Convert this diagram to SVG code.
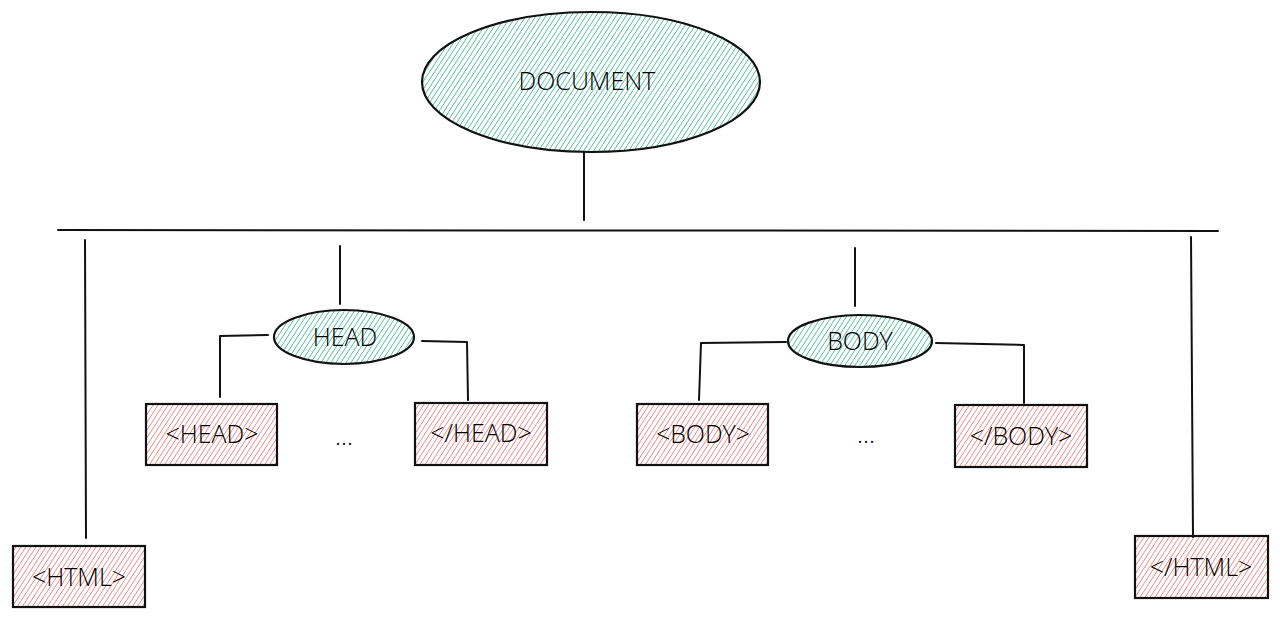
<svg xmlns="http://www.w3.org/2000/svg" width="1280" height="621" viewBox="0 0 1280 621">
<defs>
<pattern id="hg" width="4.2" height="5" patternUnits="userSpaceOnUse" patternTransform="rotate(33)">
<line x1="0" y1="0" x2="0" y2="5" stroke="#0ca678" stroke-width="1.4" stroke-opacity="0.85"/>
</pattern>
<pattern id="hr" width="4.2" height="5" patternUnits="userSpaceOnUse" patternTransform="rotate(33)">
<line x1="0" y1="0" x2="0" y2="5" stroke="#e03131" stroke-width="1.3" stroke-opacity="0.75"/>
</pattern>
<style>
.e{fill:url(#hg);stroke:#111111;stroke-width:2.2}
.r{fill:url(#hr);stroke:#111111;stroke-width:2.2}
.c{fill:none;stroke:#111111;stroke-width:2;stroke-linecap:round;stroke-linejoin:round}
text{font-family:"Open Sans","Noto Sans",sans-serif;font-weight:300;fill:#000000;text-anchor:middle;dominant-baseline:central}
.t{font-size:25px}
.s{font-size:25px}
</style>
</defs>
<rect width="1280" height="621" fill="#ffffff"/>
<g id="connectors">
<path class="c" d="M584 152 L584 220"/>
<path class="c" d="M58 230 L1218 231"/>
<path class="c" d="M85 240 L86 538"/>
<path class="c" d="M1191 237 L1193 537"/>
<path class="c" d="M340 246 L340 304"/>
<path class="c" d="M268 335 L220 336 L220 397"/>
<path class="c" d="M422 341 L467 342 L468 400"/>
<path class="c" d="M855 248 L855 306"/>
<path class="c" d="M786 342 L701 343 L699 400"/>
<path class="c" d="M936 343 L1024 345 L1024 403"/>
</g>
<g id="document">
<ellipse class="e" cx="591" cy="82" rx="169" ry="70"/>
<text class="t" x="587" y="80">DOCUMENT</text>
</g>
<g id="head">
<ellipse class="e" cx="344" cy="337" rx="70" ry="27"/>
<text class="s" x="345" y="336">HEAD</text>
</g>
<g id="body">
<ellipse class="e" cx="860" cy="341" rx="72" ry="26"/>
<text class="s" x="860" y="340">BODY</text>
</g>
<g id="head-open">
<rect class="r" x="146" y="404" width="131" height="61"/>
<text class="s" x="212" y="433">&lt;HEAD&gt;</text>
</g>
<g id="head-dots"><text class="s" x="344" y="435">...</text></g>
<g id="head-close">
<rect class="r" x="415" y="403" width="132" height="62"/>
<text class="s" x="481" y="432">&lt;/HEAD&gt;</text>
</g>
<g id="body-open">
<rect class="r" x="637" y="404" width="131" height="61"/>
<text class="s" x="703" y="433">&lt;BODY&gt;</text>
</g>
<g id="body-dots"><text class="s" x="866" y="433">...</text></g>
<g id="body-close">
<rect class="r" x="955" y="405" width="132" height="62"/>
<text class="s" x="1021" y="435">&lt;/BODY&gt;</text>
</g>
<g id="html-open">
<rect class="r" x="13" y="546" width="132" height="61"/>
<text class="s" x="79" y="576">&lt;HTML&gt;</text>
</g>
<g id="html-close">
<rect class="r" x="1135" y="536" width="133" height="62"/>
<text class="s" x="1201" y="566">&lt;/HTML&gt;</text>
</g>
</svg>
